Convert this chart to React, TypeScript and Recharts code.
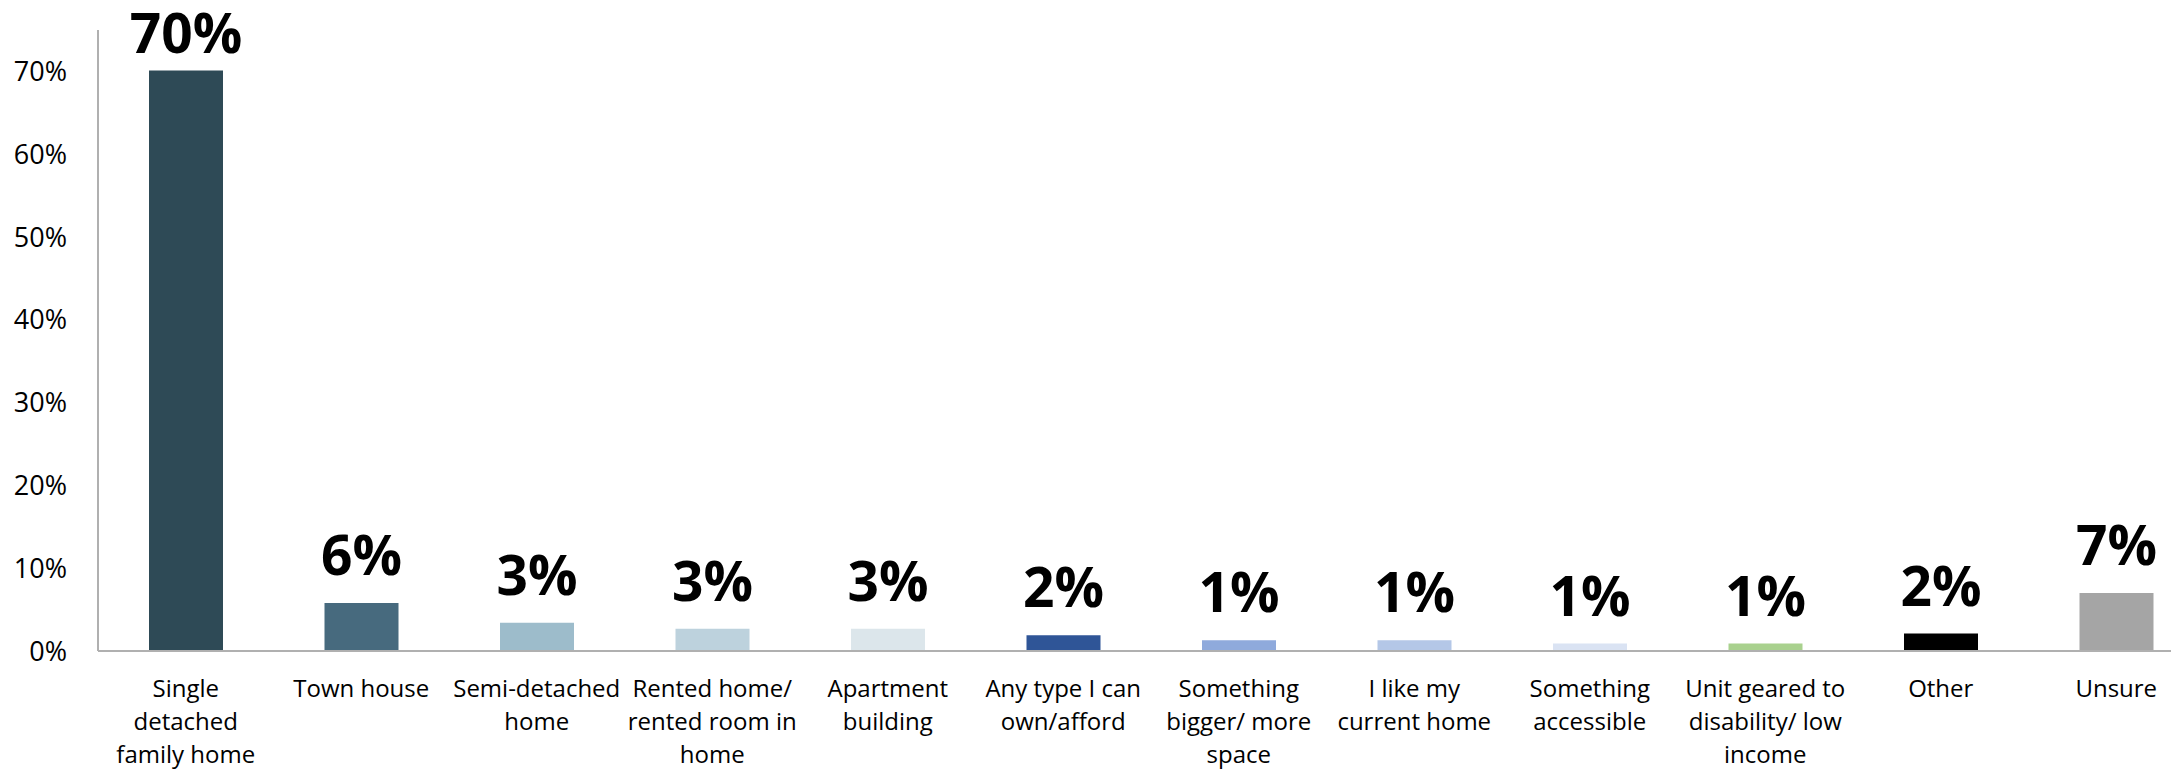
import React from "react";
import { BarChart, Bar, XAxis, YAxis, Cell, LabelList } from "recharts";

const categories = [
  "Single detached family home",
  "Town house",
  "Semi-detached home",
  "Rented home/ rented room in home",
  "Apartment building",
  "Any type I can own/afford",
  "Something bigger/ more space",
  "I like my current home",
  "Something accessible",
  "Unit geared to disability/ low income",
  "Other",
  "Unsure",
];

const tickLines = [
  ["Single", "detached", "family home"],
  ["Town house"],
  ["Semi-detached", "home"],
  ["Rented home/", "rented room in", "home"],
  ["Apartment", "building"],
  ["Any type I can", "own/afford"],
  ["Something", "bigger/ more", "space"],
  ["I like my", "current home"],
  ["Something", "accessible"],
  ["Unit geared to", "disability/ low", "income"],
  ["Other"],
  ["Unsure"],
];

const values = [0.701, 0.058, 0.034, 0.027, 0.027, 0.019, 0.013, 0.013, 0.009, 0.009, 0.021, 0.07];

const colors = [
  "#2E4A56",
  "#476A7E",
  "#9DBCCB",
  "#BDD2DD",
  "#DCE6EB",
  "#2F5597",
  "#8FAADC",
  "#B4C7E7",
  "#DAE3F3",
  "#A9D18E",
  "#000000",
  "#A5A5A5",
];

const yTicks = [0, 0.1, 0.2, 0.3, 0.4, 0.5, 0.6, 0.7];

const data = categories.map((name, i) => ({ name, value: values[i], idx: i }));

const FONT = "'Open Sans', 'Liberation Sans', sans-serif";
const pct = (v: number) => `${Math.round(v * 100)}%`;

const XTick = (props: any) => {
  const { x, y, payload } = props;
  const lines = tickLines[payload.index] || [payload.value];
  return (
    <text x={x} y={y + 46} textAnchor="middle" fontFamily={FONT} fontSize={24} fill="#000">
      {lines.map((l: string, i: number) => (
        <tspan key={i} x={x} dy={i === 0 ? 0 : 33}>
          {l}
        </tspan>
      ))}
    </text>
  );
};

const TopLabel = (props: any) => {
  const { x, y, width, value } = props;
  const baseline = Math.max(y - 28, 53);
  return (
    <text
      x={x + width / 2}
      y={baseline}
      textAnchor="middle"
      fontFamily={FONT}
      fontWeight={700}
      fontSize={55}
      fill="#000"
    >
      {pct(value)}
    </text>
  );
};

export default function App() {
  return (
    <div
      style={{
        position: "absolute",
        left: 0,
        top: 0,
        width: 2171,
        height: 769,
        overflow: "hidden",
        background: "#fff",
      }}
    >
      <BarChart
        width={2210}
        height={769}
        data={data}
        margin={{ top: 30, right: 6, bottom: 0, left: 0 }}
        barCategoryGap={0}
      >
        <YAxis
          width={98}
          domain={[0, 0.75]}
          ticks={yTicks}
          tickFormatter={pct}
          axisLine={{ stroke: "#B0B0B0", strokeWidth: 2 }}
          tickLine={false}
          tickSize={0}
          tickMargin={31}
          interval={0}
          allowDataOverflow
          tick={{ fontFamily: FONT, fontSize: 27, fill: "#000" }}
        />
        <XAxis
          dataKey="name"
          height={118}
          interval={0}
          axisLine={{ stroke: "#B0B0B0", strokeWidth: 2 }}
          tickLine={false}
          tickSize={0}
          tickMargin={0}
          tick={<XTick />}
        />
        <Bar dataKey="value" barSize={74} isAnimationActive={false}>
          {data.map((d, i) => (
            <Cell key={i} fill={colors[i]} />
          ))}
          <LabelList dataKey="value" content={<TopLabel />} />
        </Bar>
      </BarChart>
    </div>
  );
}
